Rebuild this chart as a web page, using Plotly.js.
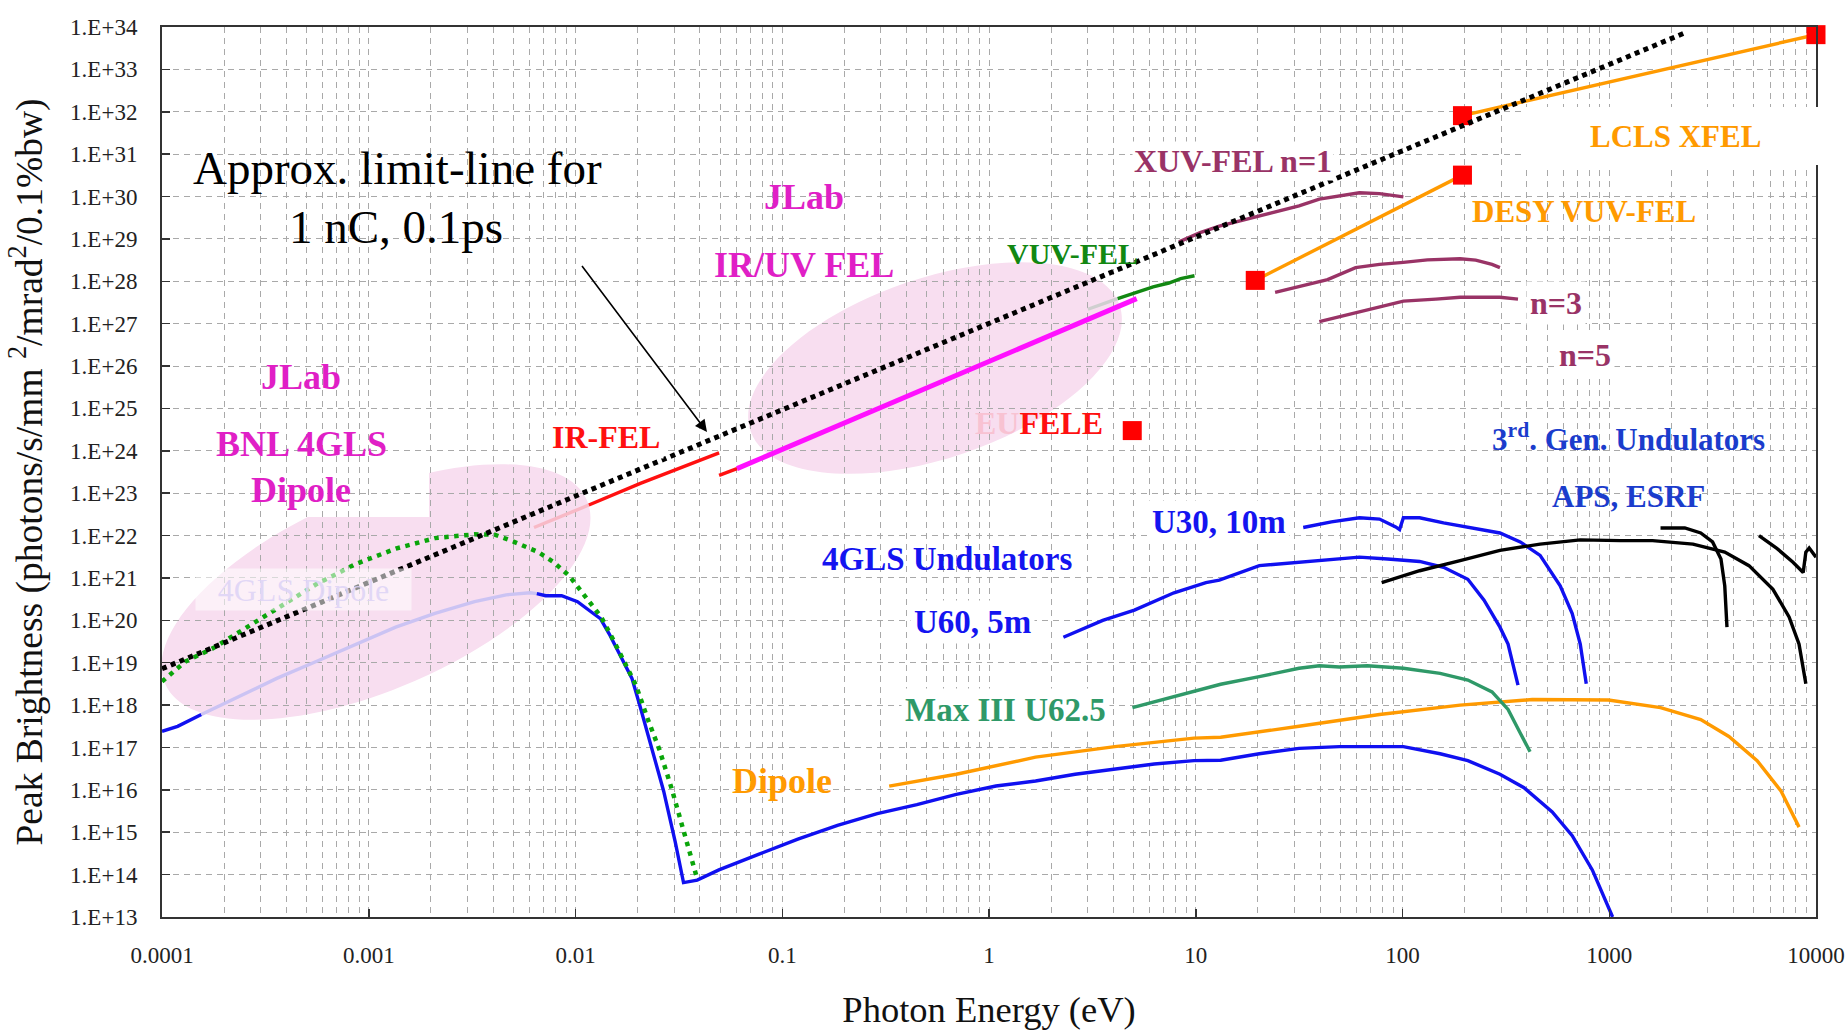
<!DOCTYPE html>
<html>
<head>
<meta charset="utf-8">
<script src="https://cdn.plot.ly/plotly-3.0.1.min.js"></script>
<style>html,body{margin:0;padding:0;background:#fff;}#chart{width:1848px;height:1036px;}</style>
</head>
<body>
<div id="chart"></div>
<script>
// ---------------- axis ticks ----------------
const xTickVals = [1e-4, 1e-3, 1e-2, 1e-1, 1, 10, 100, 1000, 10000];
const xTickText = ['0.0001', '0.001', '0.01', '0.1', '1', '10', '100', '1000', '10000'];
const yTickVals = [1e13,1e14,1e15,1e16,1e17,1e18,1e19,1e20,1e21,1e22,1e23,1e24,1e25,1e26,1e27,1e28,1e29,1e30,1e31,1e32,1e33,1e34];
const yTickText = ['1.E+13','1.E+14','1.E+15','1.E+16','1.E+17','1.E+18','1.E+19','1.E+20','1.E+21','1.E+22','1.E+23','1.E+24','1.E+25','1.E+26','1.E+27','1.E+28','1.E+29','1.E+30','1.E+31','1.E+32','1.E+33','1.E+34'];

// ---------------- series (photon energy eV, peak brightness) ----------------
const limitE = [1.0e-4, 2310];
const limitB = [7.2e18, 7.2e33];

// 4GLS dipole (blue), split where it lies under the pink highlight
const dipoleLeftE = [1.0e-4, 1.19e-4, 1.55e-4];
const dipoleLeftB = [2.4e17, 3.16e17, 6.0e17];
const dipoleFadedE = [1.55e-4, 2.31e-4, 3.59e-4, 5.57e-4, 8.67e-4, 1.35e-3, 2.09e-3, 3.25e-3, 4.62e-3, 6.03e-3, 6.5e-3];
const dipoleFadedB = [6.0e17, 1.55e18, 4.27e18, 1.07e19, 2.75e19, 6.9e19, 1.45e20, 2.75e20, 4.0e20, 4.47e20, 4.27e20];
const dipoleRightE = [6.5e-3, 7.18e-3, 8.57e-3, 1.023e-2, 1.22e-2, 1.32e-2, 1.455e-2, 1.64e-2, 1.875e-2, 2.05e-2, 2.33e-2, 2.67e-2, 3.04e-2, 3.33e-2, 3.88e-2, 4.94e-2, 7.67e-2, 0.119, 0.185, 0.288, 0.448, 0.695, 1.08, 1.68, 2.61, 4.06, 6.3, 9.8, 13.2, 20.3, 31.6, 49.5, 77.4, 101, 152, 207, 296, 387, 530, 662, 828, 1038];
const dipoleRightB = [4.27e20, 3.8e20, 3.8e20, 2.75e20, 1.45e20, 1.1e20, 4.8e19, 1.55e19, 4.27e18, 9.5e17, 1.05e17, 9.3e15, 5.75e14, 6.5e13, 7.4e13, 1.29e14, 3.0e14, 6.9e14, 1.45e15, 2.75e15, 4.47e15, 7.8e15, 1.23e16, 1.62e16, 2.34e16, 3.1e16, 4.07e16, 4.9e16, 5.0e16, 7.1e16, 9.5e16, 1.05e17, 1.07e17, 1.05e17, 7.1e16, 4.9e16, 2.34e16, 1.12e16, 3.0e15, 8.3e14, 1.29e14, 1.0e13];

// JLab / BNL 4GLS dipole (green dotted)
const bnlDipoleE = [1.0e-4, 1.30e-4, 1.78e-4, 2.42e-4, 3.59e-4, 5.57e-4, 8.67e-4, 1.35e-3, 2.09e-3, 3.25e-3, 4.07e-3, 5.05e-3, 6.6e-3, 7.85e-3, 9.33e-3, 1.117e-2, 1.33e-2, 1.50e-2, 1.72e-2, 1.96e-2, 2.24e-2, 2.55e-2, 2.91e-2, 3.33e-2, 3.79e-2, 3.88e-2];
const bnlDipoleB = [3.6e18, 1.07e19, 2.24e19, 5.75e19, 1.9e20, 7.1e20, 2.14e21, 4.9e21, 8.7e21, 1.07e22, 1.05e22, 7.1e21, 4.07e21, 2.34e21, 1.12e21, 3.63e20, 1.2e20, 4.0e19, 1.07e19, 2.95e18, 4.57e17, 8.7e16, 1.12e16, 1.2e15, 1.41e14, 7.9e13];

// IR-FEL (red), JLab IR/UV FEL (magenta), VUV-FEL (green)
const irFelFadedE = [6.3e-3, 1.16e-2];
const irFelFadedB = [1.55e22, 5.25e22];
const irFelE = [1.16e-2, 2.06e-2, 4.95e-2];
const irFelB = [5.25e22, 1.7e23, 8.9e23];
const irFel2E = [4.95e-2, 6.04e-2];
const irFel2B = [2.63e23, 3.8e23];
const jlabUvE = [6.04e-2, 5.18];
const jlabUvB = [3.8e23, 3.9e27];
const greyE = [3.01, 4.19];
const greyB = [2.19e27, 3.9e27];
const vuvFelE = [4.19, 5.22, 6.22, 7.41, 8.45, 9.86];
const vuvFelB = [3.9e27, 5.5e27, 7.4e27, 9.1e27, 1.15e28, 1.35e28];

// XUV-FEL harmonics (purple)
const xuv1E = [8.3, 10.5, 13.0, 20.3, 31.6, 39.6, 49.5, 61.9, 77.4, 88.7, 101];
const xuv1B = [8.5e28, 1.41e29, 2.0e29, 3.47e29, 6.0e29, 8.7e29, 1.02e30, 1.23e30, 1.17e30, 1.07e30, 9.8e29];
const xuv3E = [24.2, 31.6, 43.4, 59.3, 77.4, 101, 132, 190, 226, 271, 296];
const xuv3B = [5.5e27, 7.6e27, 1.1e28, 2.1e28, 2.5e28, 2.8e28, 3.2e28, 3.4e28, 3.16e28, 2.5e28, 2.1e28];
const xuv5E = [39.6, 54.2, 77.4, 101, 145, 190, 296, 362];
const xuv5B = [1.12e27, 1.62e27, 2.57e27, 3.4e27, 3.8e27, 4.2e27, 4.2e27, 3.8e27];

// DESY VUV-FEL and LCLS XFEL (orange lines) + red squares
const desyE = [19.4, 195];
const desyB = [1.05e28, 3.2e30];
const lclsE = [195, 1.0e4];
const lclsB = [8.1e31, 6.6e33];
const squareE = [4.93, 19.4, 195, 195, 1.0e4];
const squareB = [3.0e24, 1.05e28, 3.2e30, 8.1e31, 6.6e33];

// 4GLS undulators (blue)
const u60E = [2.29, 3.55, 5.05, 7.85, 11.2, 13.0, 20.3, 31.6, 45.3, 61.9, 84.7, 121, 158, 207, 248, 296, 324, 362];
const u60B = [4.0e19, 1.0e20, 1.74e20, 4.47e20, 7.8e20, 8.9e20, 1.95e21, 2.34e21, 2.75e21, 3.1e21, 2.8e21, 2.45e21, 1.78e21, 9.3e20, 3.0e20, 6.9e19, 2.75e19, 2.95e18];
const u30E = [33.1, 45.3, 61.9, 77.4, 92.7, 96.8, 101, 121, 158, 207, 296, 371, 463, 579, 662, 724, 774];
const u30B = [1.55e22, 2.1e22, 2.63e22, 2.45e22, 1.6e22, 1.38e22, 2.63e22, 2.63e22, 2.0e22, 1.55e22, 1.15e22, 7.1e21, 3.4e21, 6.5e20, 1.45e20, 2.75e19, 3.2e18];

// Max III U62.5 (green)
const maxE = [4.94, 7.85, 13.2, 20.3, 31.6, 39.6, 49.5, 67.6, 101, 152, 207, 271, 324, 371, 414];
const maxB = [8.7e17, 1.55e18, 3.1e18, 4.7e18, 7.4e18, 8.5e18, 7.9e18, 8.5e18, 7.4e18, 5.6e18, 3.9e18, 2.04e18, 7.9e17, 2.2e17, 7.9e16];

// 3rd gen dipole (orange)
const dipole3E = [0.329, 0.695, 1.68, 4.06, 9.8, 13.2, 31.6, 77.4, 190, 424, 991, 1770, 2770, 3790, 5190, 6780, 8280];
const dipole3B = [1.23e16, 2.34e16, 5.9e16, 1.05e17, 1.66e17, 1.74e17, 3.16e17, 6.0e17, 1.0e18, 1.35e18, 1.32e18, 8.7e17, 4.57e17, 1.82e17, 4.9e16, 9.3e15, 1.32e15];

// 3rd gen undulators APS / ESRF (black)
const apsAE = [79.3, 121, 190, 296, 463, 724, 1130, 1620, 2540, 3620, 4740, 6190, 7410, 8280, 8930];
const apsAB = [7.8e20, 1.48e21, 2.57e21, 4.47e21, 6.3e21, 7.9e21, 7.6e21, 7.6e21, 6.3e21, 4.07e21, 1.95e21, 5.4e20, 1.2e20, 2.75e19, 3.2e18];
const apsBE = [1770, 2320, 2770, 3160, 3470, 3620, 3710];
const apsBB = [1.51e22, 1.51e22, 1.15e22, 7.1e21, 2.8e21, 6.5e20, 6.9e19];
const apsCE = [5300, 6490, 7740, 8670, 8930, 9270, 10000];
const apsCB = [1.0e22, 4.9e21, 2.34e21, 1.35e21, 4.07e21, 5.1e21, 3.1e21];

// ---------------- styling ----------------
const SERIF = 'Liberation Serif, Times New Roman, serif';
const GRID = '#a9a9a9';
const DASH = '6px,5px';
const PL = 162, PR = 1816, PT = 27, PB = 917;
const P = (x, y) => ({x: (x - PL) / (PR - PL), y: (PB - y) / (PB - PT)});

function line(x, y, color, width, dash) {
  return {x, y, type: 'scatter', mode: 'lines', hoverinfo: 'skip',
          line: {color, width, dash: dash || 'solid'}};
}
const LW = 3.4;
const traces = [
  line(greyE, greyB, '#cfcfcf', LW),
  line(dipoleLeftE, dipoleLeftB, '#1010f0', LW),
  line(dipoleFadedE, dipoleFadedB, '#cbc3f3', LW),
  line(dipoleRightE, dipoleRightB, '#1010f0', LW),
  line(dipole3E, dipole3B, '#ff9a00', LW),
  line(maxE, maxB, '#2f9968', LW),
  line(u60E, u60B, '#1010f0', LW),
  line(u30E, u30B, '#1010f0', LW),
  line(apsAE, apsAB, '#000000', LW),
  line(apsBE, apsBB, '#000000', LW),
  line(apsCE, apsCB, '#000000', LW),
  line(xuv1E, xuv1B, '#993366', LW),
  line(xuv3E, xuv3B, '#993366', LW),
  line(xuv5E, xuv5B, '#993366', LW),
  line(vuvFelE, vuvFelB, '#128812', LW),
  line(irFelFadedE, irFelFadedB, '#f8b9c6', LW),
  line(irFelE, irFelB, '#ff1010', LW),
  line(irFel2E, irFel2B, '#ff1010', LW),
  line(jlabUvE, jlabUvB, '#ff10ff', 5),
  line(desyE, desyB, '#ff9a00', LW),
  line(lclsE, lclsB, '#ff9a00', LW),
  line(bnlDipoleE, bnlDipoleB, '#0aa50a', 4.5, '4.5px,5.5px'),
  {x: squareE, y: squareB, type: 'scatter', mode: 'markers', hoverinfo: 'skip', cliponaxis: false,
   marker: {symbol: 'square', size: 19, color: '#ff0000', line: {width: 0}}},
  line(limitE, limitB, '#000000', 5, '5px,4.5px')
];

// minor vertical grid positions (2..9 in each decade)
const minorX = [];
for (let d = -4; d < 4; d++) for (let m = 2; m <= 9; m++) minorX.push(m * Math.pow(10, d));

// rotated highlight ellipses (pixel geometry -> paper path)
function ellipsePath(cx, cy, a, b, deg) {
  const t = deg * Math.PI / 180, c = Math.cos(t), s = Math.sin(t), k = 0.5523;
  const Q = (u, v) => { const p = P(cx + u * c + v * s, cy - u * s + v * c); return p.x.toFixed(5) + ',' + p.y.toFixed(5); };
  return `M${Q(a,0)} C${Q(a,k*b)} ${Q(k*a,b)} ${Q(0,b)} C${Q(-k*a,b)} ${Q(-a,k*b)} ${Q(-a,0)} ` +
         `C${Q(-a,-k*b)} ${Q(-k*a,-b)} ${Q(0,-b)} C${Q(k*a,-b)} ${Q(a,-k*b)} ${Q(a,0)} Z`;
}
function whiteBox(x0, y0, x1, y1, layer) {
  const p0 = P(x0, y1), p1 = P(x1, y0);
  return {type: 'rect', xref: 'paper', yref: 'paper', x0: p0.x, y0: p0.y, x1: p1.x, y1: p1.y,
          fillcolor: '#ffffff', line: {width: 0}, layer: layer || 'between'};
}
const PINK = 'rgb(248,222,240)';
const shapes = [
  whiteBox(170, 128, 624, 262),     // limit-line text
  whiteBox(659, 160, 950, 292),     // JLab IR/UV FEL (under the ellipse)
  whiteBox(1456, 188, 1717, 233),   // DESY VUV-FEL
  whiteBox(1452, 403, 1800, 511),   // 3rd gen
  whiteBox(805, 500, 1086, 593),    // 4GLS undulators
  whiteBox(715, 752, 876, 806),     // Dipole
  {type: 'path', xref: 'paper', yref: 'paper', path: ellipsePath(376, 592, 230, 97, 23.5), fillcolor: PINK, line: {width: 0}, layer: 'between'},
  {type: 'path', xref: 'paper', yref: 'paper', path: ellipsePath(935, 368, 195, 90, 18.8), fillcolor: PINK, line: {width: 0}, layer: 'between'},
  whiteBox(166, 343, 429, 517),     // JLab BNL 4GLS Dipole (over the ellipse)
  whiteBox(1524, 107, 1832, 165, 'above')   // LCLS XFEL (covers the frame)
];

function label(text, px, py, size, color, extra) {
  const p = P(px, py);
  return Object.assign({xref: 'paper', yref: 'paper', x: p.x, y: p.y, xanchor: 'center', yanchor: 'middle',
    showarrow: false, text, font: {family: SERIF, size, color}}, extra || {});
}
const MAG = '#e01fc6', ORA = '#ff9a00', PUR = '#993366', BLU = '#1414f0', BLU3 = '#1b3ccc';
const WB = {bgcolor: '#ffffff', borderpad: 3};
const arrowHead = P(707, 432);
const annotations = [
  label('Approx. limit-line for', 397, 168, 47, '#000'),
  label('1 nC, 0.1ps', 396, 227, 47, '#000'),
  {xref: 'paper', yref: 'paper', x: arrowHead.x, y: arrowHead.y, ax: -128, ay: -170, text: ' ',
   showarrow: true, arrowhead: 2, arrowsize: 1.5, arrowwidth: 1.6, arrowcolor: '#000'},
  label('<b>JLab</b>', 301, 377, 36, MAG),
  label('<b>BNL 4GLS</b>', 301, 444, 36, MAG),
  label('<b>Dipole</b>', 301, 490, 36, MAG),
  label('4GLS Dipole', 303, 589, 32, 'rgba(222,212,246,0.9)', {bgcolor: 'rgba(255,255,255,0.55)', width: 213, height: 39}),
  label('<b>JLab</b>', 804, 197, 36, MAG),
  label('<b>IR/UV FEL</b>', 804, 265, 36, MAG),
  label('<b>IR-FEL</b>', 606, 437, 32, '#ff1010', WB),
  label('<b>VUV-FEL</b>', 1072, 253, 30, '#128812'),
  label('<span style="color:#f8c2d2">EU</span>FELE', 1039, 423, 32, '#ff1010', {font: {family: SERIF, size: 32, color: '#ff1010', weight: 'bold'}}),
  label('<b>XUV-FEL n=1</b>', 1233, 161, 32, PUR, {bgcolor: '#ffffff', borderpad: 1}),
  label('<b>n=3</b>', 1556, 303, 32, PUR, WB),
  label('<b>n=5</b>', 1585, 355, 32, PUR, WB),
  label('<b>LCLS XFEL</b>', 1675, 137, 31, ORA),
  label('<b>DESY VUV-FEL</b>', 1584, 211, 31, ORA),
  label('<b>3<sup>rd</sup>. Gen. Undulators</b>', 1628, 438, 31, BLU3),
  label('<b>APS, ESRF</b>', 1628, 497, 31, BLU3),
  label('<b>U30, 10m</b>', 1219, 522, 33, BLU, WB),
  label('<b>4GLS Undulators</b>', 947, 559, 33, BLU),
  label('<b>U60, 5m</b>', 972, 622, 33, BLU, WB),
  label('<b>Max III U62.5</b>', 1005, 710, 33, '#2f9968', WB),
  label('<b>Dipole</b>', 782, 781, 36, ORA)
];

const axisCommon = {
  type: 'log', tickmode: 'array', ticks: 'inside', ticklen: 8, tickwidth: 1.5, tickcolor: '#333',
  showline: true, linecolor: '#333', linewidth: 2, mirror: true,
  showgrid: true, gridcolor: GRID, gridwidth: 1, griddash: DASH, zeroline: false,
  tickfont: {family: SERIF, size: 23, color: '#222'}, automargin: false, fixedrange: true
};

const layout = {
  width: 1848, height: 1036,
  margin: {l: PL, r: 1848 - PR, t: PT, b: 1036 - PB, pad: 0},
  paper_bgcolor: '#ffffff', plot_bgcolor: '#ffffff',
  showlegend: false,
  font: {family: SERIF, color: '#111'},
  xaxis: Object.assign({}, axisCommon, {
    range: [-4, 4], tickvals: xTickVals, ticktext: xTickText, ticklabelstandoff: 16,
    minor: {tickmode: 'array', tickvals: minorX, showgrid: true, gridcolor: GRID, gridwidth: 1, griddash: DASH, ticks: ''},
    title: {text: 'Photon Energy (eV)', font: {family: SERIF, size: 36.5, color: '#111'}, standoff: 30}
  }),
  yaxis: Object.assign({}, axisCommon, {
    range: [13, 34], tickvals: yTickVals, ticktext: yTickText, ticklabelstandoff: 18,
    title: {text: 'Peak Brightness (photons/s/mm <sup>2</sup>/mrad<sup>2</sup>/0.1%bw)', font: {family: SERIF, size: 37.5, color: '#111'}, standoff: 16}
  }),
  shapes, annotations
};

Plotly.newPlot('chart', traces, layout, {displayModeBar: false, staticPlot: true});
</script>
</body>
</html>
